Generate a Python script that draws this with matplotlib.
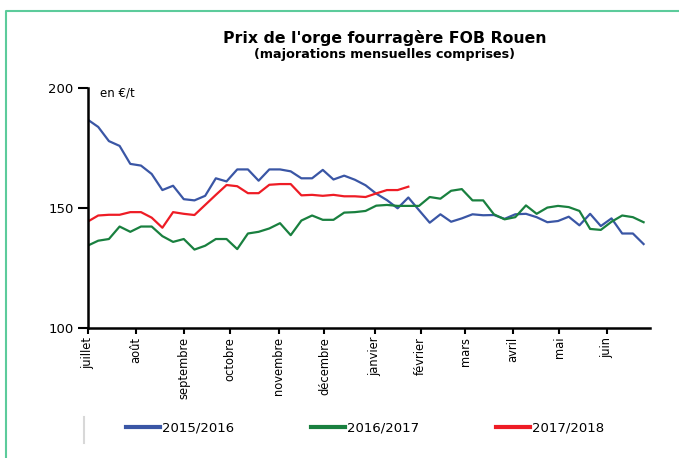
import numpy as np
import matplotlib.pyplot as plt
from matplotlib.lines import Line2D

# weekly prices, €/t (week 0 = early July)
s2015 = [187.0, 183.9, 178.0, 176.0, 168.5, 167.8, 164.3, 157.6, 159.4, 153.8,
         153.3, 155.2, 162.5, 161.2, 166.2, 166.2, 161.5, 166.2, 166.2, 165.4,
         162.5, 162.5, 166.0, 162.0, 163.6, 161.9, 159.6, 156.1, 153.4, 150.0,
         154.5, 149.2, 144.0, 147.5, 144.4, 145.8, 147.5, 147.1, 147.2, 145.6,
         147.5, 147.7, 146.3, 144.2, 144.7, 146.5, 142.9, 147.7, 142.6, 145.8,
         139.5, 139.5, 135.1]
s2016 = [134.4, 136.5, 137.2, 142.4, 140.2, 142.4, 142.4, 138.4, 136.0, 137.2,
         132.8, 134.4, 137.2, 137.2, 133.0, 139.5, 140.2, 141.6, 143.8, 138.8,
         144.9, 147.0, 145.2, 145.2, 148.2, 148.4, 148.9, 151.1, 151.4, 151.0,
         151.0, 151.0, 154.7, 154.0, 157.3, 158.0, 153.3, 153.3, 147.5, 145.4,
         146.3, 151.2, 147.7, 150.3, 151.0, 150.5, 148.9, 141.4, 141.0, 144.4,
         147.0, 146.3, 144.2]
s2017 = [144.4, 147.0, 147.3, 147.3, 148.4, 148.4, 146.1, 141.9, 148.4, 147.7,
         147.2, 151.4, 155.6, 159.7, 159.2, 156.3, 156.3, 159.8, 160.1, 160.1,
         155.4, 155.6, 155.2, 155.6, 155.0, 155.0, 154.7, 156.2, 157.6, 157.6,
         159.0]

months = ["juillet", "août", "septembre", "octobre", "novembre", "décembre",
          "janvier", "février", "mars", "avril", "mai", "juin"]
month_pos = [0, 4.5, 9.0, 13.3, 17.9, 22.15, 26.85, 31.15, 35.3, 39.8, 44.1, 48.55]
labels = ["2015/2016", "2016/2017", "2017/2018"]
colors = ["#3a56a5", "#19803f", "#ee1c25"]

fig = plt.figure(figsize=(6.79, 4.58), dpi=100)
ax = fig.add_axes([0.1289, 0.2832, 0.8284, 0.524])

for s, c in zip([s2015, s2016, s2017], colors):
    ax.plot(np.arange(len(s)), s, color=c, lw=1.6)

ax.set_xlim(0, 52.6)
ax.set_ylim(100, 200)
ax.set_yticks([100, 150, 200])
ax.set_xticks(month_pos)
ax.set_xticklabels(months, rotation=90, fontsize=8.3)
ax.tick_params(axis="y", length=7, width=1.5, labelsize=9.5, pad=3)
ax.tick_params(axis="x", length=4, width=1.5, pad=2)
for side in ["top", "right"]:
    ax.spines[side].set_visible(False)
for side in ["left", "bottom"]:
    ax.spines[side].set_linewidth(1.8)

fig.text(0.1473, 0.797, "en €/t", fontsize=8.5, va="center")
fig.text(0.566, 0.917, "Prix de l'orge fourragère FOB Rouen", fontsize=11.3,
         fontweight="bold", ha="center", va="center")
fig.text(0.566, 0.880, "(majorations mensuelles comprises)", fontsize=9.2,
         fontweight="bold", ha="center", va="center")

# legend
handles = [Line2D([], [], color=c, lw=3) for c in colors]
fig.legend(handles, labels, loc="center left", bbox_to_anchor=(0.168, 0.065),
           ncol=3, frameon=False, fontsize=9.5, handlelength=2.6,
           handletextpad=0.15, columnspacing=5.8)
fig.add_artist(Line2D([0.124, 0.124], [0.033, 0.09], color="#d8d8d8", lw=1.5))

# green frame
fig.add_artist(Line2D([0.009, 0.009, 1.0], [0.0, 0.975, 0.975],
                      color="#5ccb9b", lw=1.5))

fig.savefig("out.png", dpi=100)
